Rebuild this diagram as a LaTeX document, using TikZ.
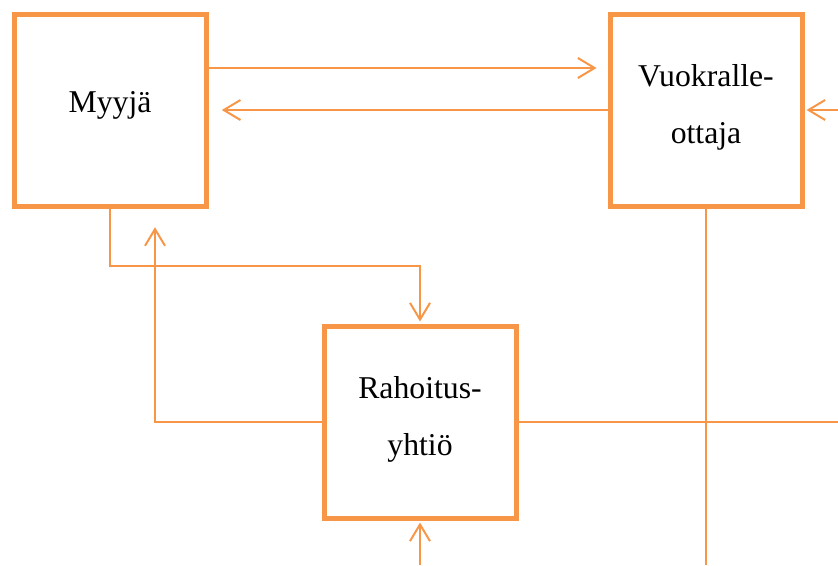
\documentclass[tikz,border=0pt]{standalone}
\usepackage{fontspec}
\setmainfont{Liberation Serif}
\usepackage{xcolor}
\usetikzlibrary{arrows.meta}
\definecolor{orng}{HTML}{F79646}
% lift a line of text without changing its box
\newcommand{\nudge}[2]{\raisebox{#1}[\height][\depth]{#2}}

\begin{document}
\begin{tikzpicture}[x=0.75pt, y=-0.75pt,
        box/.style={draw=orng, line width=3.75pt, minimum width=144pt, minimum height=144pt,
            align=center, font=\fontsize{23.8}{42.75}\selectfont},
        conn/.style={draw=orng, line width=1.5pt},
        arr/.style={conn, -{Straight Barb[length=12.5pt, width=15pt]}}]
        \useasboundingbox (0,0) rectangle (838,565);

        % the three parties
        \node[box] (myy) at (110,110) {\nudge{3.75pt}{Myyjä}};
        \node[box] (vuo) at (706,110) {\nudge{2.25pt}{Vuokralle-}\\\nudge{2.25pt}{ottaja}};
        \node[box] (rah) at (420,422) {\nudge{2.25pt}{Rahoitus-}\\\nudge{2.25pt}{yhtiö}};

        % free ends at the edge
        \coordinate (inR) at (838,110);
        \coordinate (inB) at (420,565);
        \coordinate (outR) at (838,422);
        \coordinate (outB) at (706,565);

        % connectors
        \draw[arr, shorten >=8.25pt] (myy.east |- 0,68) -- (vuo.west |- 0,68);
        \draw[arr, shorten >=10pt] (vuo.west) -- (myy.east);
        \draw[arr, shorten >=1.5pt] (inR) -- (vuo.east);
        \draw[arr, shorten >=1.5pt] (myy.south) -- (myy.south |- 0,266) -| (rah.north);
        \draw[arr, shorten >=14pt] (rah.west) -| (myy.south -| 155,0);
        \draw[arr, shorten >=1.5pt] (inB) -- (rah.south);
        \draw[conn] (rah.east) -- (outR);
        \draw[conn] (vuo.south) -- (outB);
    \end{tikzpicture}
\end{document}
